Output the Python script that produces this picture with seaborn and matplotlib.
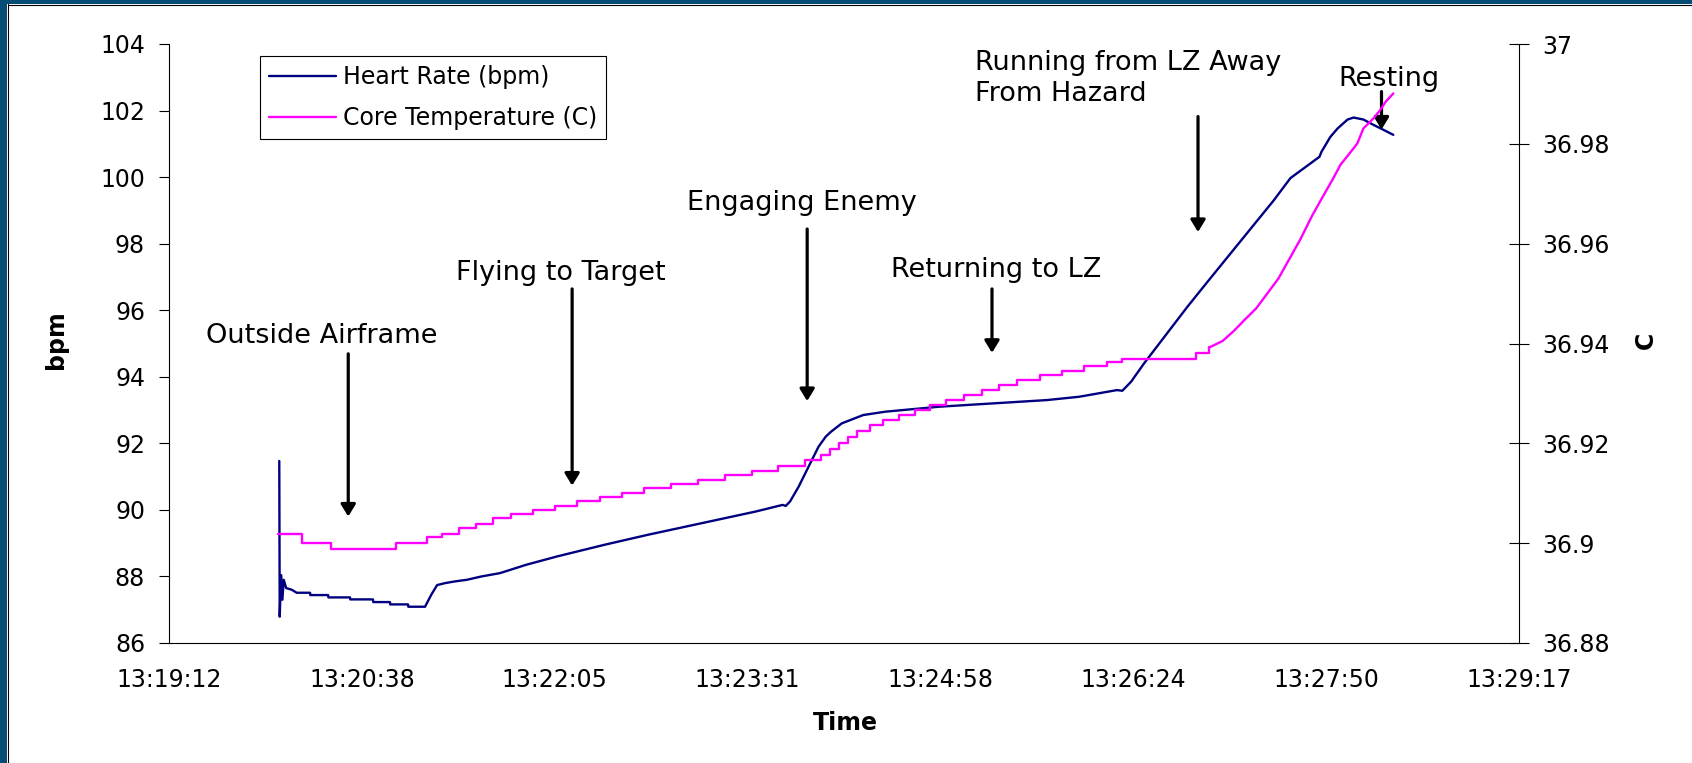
import matplotlib
matplotlib.use("Agg")
import matplotlib.pyplot as plt
from matplotlib.patches import Rectangle
from matplotlib.lines import Line2D
import seaborn as sns
import pandas as pd

# ---- data: seconds after 13:19:12 ----
hr_time = [49.4, 49.6, 50.2, 50.8, 51.4, 52.5, 55.0, 57.2, 63.2, 63.3, 71.3, 71.4,
           81.1, 81.2, 91.4, 91.5, 99.0, 99.1, 107.1, 107.2, 114.7, 117.5, 120.1,
           123.7, 128.0, 133.5, 140.0, 148.3, 160.0, 173.8, 195.0, 214.4, 238.6,
           262.8, 274.9, 276.3, 278.2, 282.1, 286.9, 291.0, 294.2, 296.6, 301.4,
           311.0, 320.8, 344.9, 369.1, 393.3, 407.8, 424.7, 427.1, 431.0, 436.8,
           446.5, 456.2, 465.8, 475.5, 485.2, 494.9, 502.4, 515.4, 516.3, 520.3,
           523.5, 528.0, 530.7, 535.1, 539.6, 544.1, 548.5]
hr_bpm = [91.47, 86.79, 88.04, 87.30, 87.90, 87.65, 87.60, 87.51, 87.51, 87.44, 87.44, 87.37,
          87.37, 87.31, 87.31, 87.23, 87.23, 87.16, 87.16, 87.09, 87.09, 87.45, 87.74,
          87.80, 87.85, 87.90, 88.00, 88.10, 88.35, 88.60, 88.95, 89.25, 89.60,
          89.95, 90.15, 90.12, 90.25, 90.70, 91.35, 91.90, 92.20, 92.35, 92.60,
          92.85, 92.95, 93.10, 93.20, 93.30, 93.40, 93.60, 93.58, 93.85, 94.40,
          95.25, 96.10, 96.90, 97.70, 98.50, 99.30, 99.97, 100.61, 100.76, 101.21,
          101.46, 101.73, 101.79, 101.73, 101.57, 101.42, 101.27]

# stepped part of the core temperature record (value held until next time)
temp_step_time = [48.7, 59.5, 72.5, 101.7, 115.6, 122.3, 130.0, 137.6, 145.2, 153.0,
                  163.0, 173.0, 183.0, 193.0, 203.0, 213.0, 225.0, 237.0, 249.0, 261.0,
                  273.0, 285.0, 292.0, 296.0, 300.0, 304.0, 308.0, 314.0, 320.0, 327.0,
                  334.0, 341.0, 348.0, 356.0, 364.0, 372.0, 380.0, 390.0, 400.0, 410.0,
                  420.0, 427.0, 460.0, 466.0]
temp_step_c = [36.9018, 36.9000, 36.8988, 36.9000, 36.9012, 36.9018, 36.9031, 36.9038,
               36.9050, 36.9058, 36.9066, 36.9075, 36.9084, 36.9092, 36.9100, 36.9110,
               36.9118, 36.9126, 36.9136, 36.9144, 36.9155, 36.9167, 36.9176, 36.9188,
               36.9200, 36.9212, 36.9224, 36.9236, 36.9246, 36.9256, 36.9266, 36.9276,
               36.9286, 36.9296, 36.9306, 36.9316, 36.9326, 36.9336, 36.9345, 36.9354,
               36.9362, 36.9368, 36.9380, 36.9392]
# final climb
temp_rise_time = [466.0, 472.0, 477.0, 482.0, 487.0, 492.0, 497.0, 502.0, 507.0, 512.0,
                  517.0, 521.6, 524.8, 528.4, 532.4, 535.1, 539.6, 542.7, 545.0, 548.5]
temp_rise_c = [36.9392, 36.9405, 36.9425, 36.9448, 36.9470, 36.9500, 36.9530, 36.9570,
               36.9610, 36.9655, 36.9695, 36.9731, 36.9758, 36.9778, 36.9801, 36.9831,
               36.9851, 36.9868, 36.9884, 36.9901]

x_tick_labels = ["13:19:12", "13:20:38", "13:22:05", "13:23:31",
                 "13:24:58", "13:26:24", "13:27:50", "13:29:17"]
bpm_ticks = [86, 88, 90, 92, 94, 96, 98, 100, 102, 104]
temp_ticks = [36.88, 36.90, 36.92, 36.94, 36.96, 36.98, 37.00]
temp_tick_labels = ["36.88", "36.9", "36.92", "36.94", "36.96", "36.98", "37"]

phase_labels = ["Outside Airframe", "Flying to Target", "Engaging Enemy",
                "Returning to LZ", "Running from LZ Away\nFrom Hazard", "Resting"]

# ---- styling ----
sns.set_style("white")
plt.rcParams["font.family"] = ["DejaVu Sans"]
plt.rcParams.update({"text.color": "black", "axes.labelcolor": "black",
                     "xtick.color": "black", "ytick.color": "black"})
FS = 17
FS_NOTE = 19.5

W, H = 1692, 763
fig = plt.figure(figsize=(W / 100, H / 100), dpi=100)
fig.patch.set_facecolor("white")

# slide frame (left and top edge)
frame_col = "#054d74"
fig.patches.append(Rectangle((0, 0), 7 / W, 1, transform=fig.transFigure,
                             facecolor=frame_col, edgecolor="none", zorder=0))
fig.patches.append(Rectangle((0, 1 - 4 / H), 1, 4 / H, transform=fig.transFigure,
                             facecolor=frame_col, edgecolor="none", zorder=0))
fig.lines.append(Line2D([7.5 / W, 7.5 / W], [0, 1 - 4 / H], transform=fig.transFigure,
                        color="black", lw=0.8))
fig.lines.append(Line2D([7.5 / W, 1], [1 - 4.5 / H, 1 - 4.5 / H], transform=fig.transFigure,
                        color="black", lw=0.8))

ax = fig.add_axes([169 / W, (H - 643) / H, (1519 - 169) / W, (643 - 44) / H])
ax2 = ax.twinx()

hr_df = pd.DataFrame({"t": hr_time, "bpm": hr_bpm})
step_df = pd.DataFrame({"t": temp_step_time, "c": temp_step_c})
rise_df = pd.DataFrame({"t": temp_rise_time, "c": temp_rise_c})

hr_color = "#000080"
temp_color = "#FF00FF"

sns.lineplot(data=hr_df, x="t", y="bpm", ax=ax, color=hr_color, lw=1.7,
             sort=False, estimator=None)
sns.lineplot(data=step_df, x="t", y="c", ax=ax2, color=temp_color, lw=1.7,
             sort=False, estimator=None, drawstyle="steps-post")
sns.lineplot(data=rise_df, x="t", y="c", ax=ax2, color=temp_color, lw=1.7,
             sort=False, estimator=None)

# axes ranges and ticks
span = 7 * 86.4
ax.set_xlim(0, span)
ax.set_ylim(86, 104)
ax2.set_ylim(36.88, 37.0)
ax.set_xticks([i * 86.4 for i in range(8)])
ax.set_xticklabels(x_tick_labels, fontsize=FS)
ax.set_yticks(bpm_ticks)
ax.set_yticklabels([str(v) for v in bpm_ticks], fontsize=FS)
ax2.set_yticks(temp_ticks)
ax2.set_yticklabels(temp_tick_labels, fontsize=FS)

for a in (ax, ax2):
    a.spines["top"].set_visible(False)
    for s in ("left", "right", "bottom"):
        a.spines[s].set_linewidth(0.8)
        a.spines[s].set_color("black")
ax.spines["right"].set_visible(False)
ax2.spines["left"].set_visible(False)
ax2.spines["bottom"].set_visible(False)

ax.tick_params(axis="y", direction="out", length=7.2, width=0.8, pad=10, colors="black")
ax.tick_params(axis="x", direction="out", length=5, width=0.8, pad=13, colors="black")
ax2.tick_params(axis="y", direction="inout", length=13.7, width=0.8, pad=10, colors="black")

ax.set_xlabel("Time", fontsize=FS, fontweight="bold", va="center")
ax.xaxis.set_label_coords(0.5007, -0.1336)
ax.set_ylabel("bpm", fontsize=FS, fontweight="bold", va="center")
ax.yaxis.set_label_coords(-0.0837, 0.506)
ax2.set_ylabel("C", fontsize=FS, fontweight="bold", va="center", rotation=90)
ax2.yaxis.set_label_coords(1.094, 0.506)

# legend
handles = [Line2D([], [], color=hr_color, lw=1.7), Line2D([], [], color=temp_color, lw=1.7)]
leg = ax.legend(handles, ["Heart Rate (bpm)", "Core Temperature (C)"],
                loc="upper left", bbox_to_anchor=(260 / W, 1 - 56 / H),
                bbox_transform=fig.transFigure, borderaxespad=0, fontsize=FS,
                handlelength=2.8, handletextpad=0.3, labelspacing=0.7,
                borderpad=0.4, fancybox=False, framealpha=1)
leg.get_frame().set_edgecolor("black")
leg.get_frame().set_linewidth(0.8)

# phase markers
text_pos = [(68.4, 95.24), (175.7, 97.12), (283.6, 99.23), (370.6, 97.21),
            (361.0, 102.96), (546.6, 102.95)]
arrow_pos = [(80.3, 94.69, 89.80), (180.6, 96.64, 90.73), (285.9, 98.44, 93.27),
             (368.7, 96.64, 94.72), (461.0, 101.82, 98.35), (543.2, 102.57, 101.43)]
for i, lab in enumerate(phase_labels):
    tx, ty = text_pos[i]
    ha = "left" if "\n" in lab else "center"
    ax.text(tx, ty, lab, fontsize=FS_NOTE, ha=ha, va="center", linespacing=1.25, zorder=5)
    axx, y0, y1 = arrow_pos[i]
    ax.annotate("", xy=(axx, y1), xytext=(axx, y0),
                arrowprops=dict(arrowstyle="-|>,head_length=0.36,head_width=0.22",
                                mutation_scale=20, lw=2.3, color="black",
                                shrinkA=0, shrinkB=0), zorder=5)

fig.savefig("out.png", dpi=100)
